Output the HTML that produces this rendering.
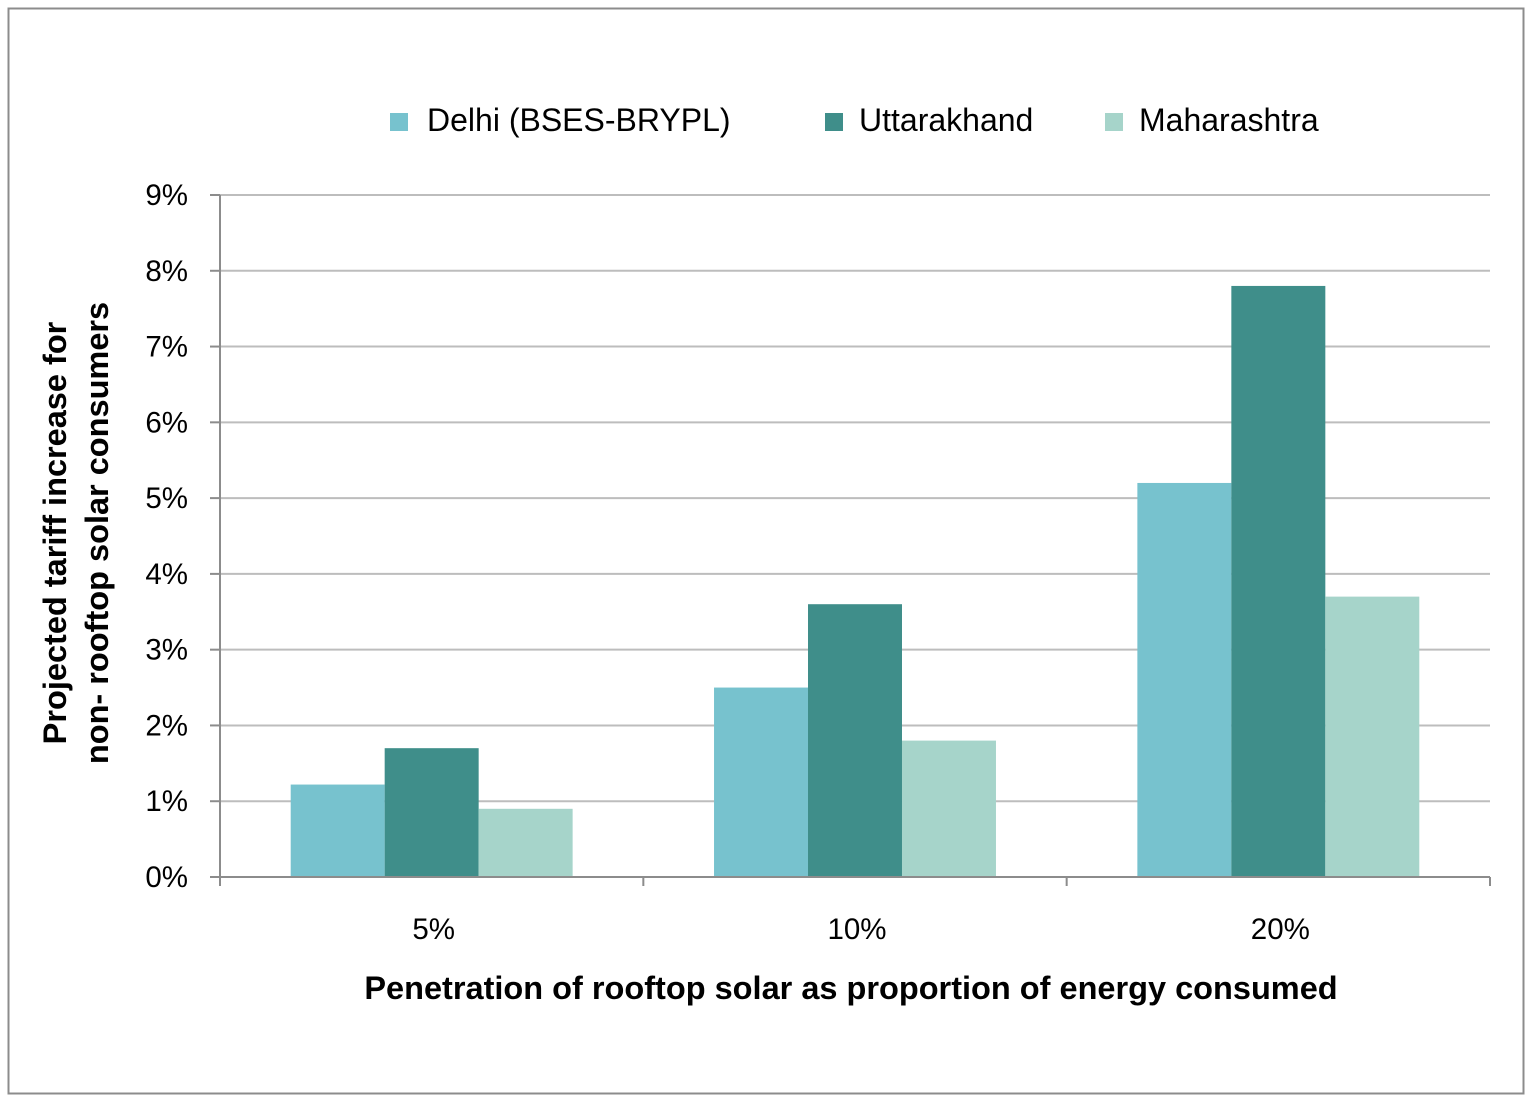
<!DOCTYPE html>
<html><head><meta charset="utf-8"><style>
body{margin:0;background:#fff}
svg text{font-family:"Liberation Sans",Arial,sans-serif;fill:#000}
</style></head><body>
<svg width="1532" height="1100" xmlns="http://www.w3.org/2000/svg">
<rect x="8.5" y="8.5" width="1515" height="1085" fill="#fff" stroke="#8c8c8c" stroke-width="2"/>
<g id="grid"></g>
<g id="bars"></g>
<g id="axes"></g>
<g>
<rect x="390" y="113" width="18" height="18" fill="#77c2ce"/>
<text x="427" y="131" font-size="32">Delhi (BSES-BRYPL)</text>
<rect x="825" y="113" width="18" height="18" fill="#3f8e8a"/>
<text x="859" y="131" font-size="32">Uttarakhand</text>
<rect x="1105" y="113" width="18" height="18" fill="#a6d4ca"/>
<text x="1139" y="131" font-size="32">Maharashtra</text>
</g>
<text x="851" y="999" font-size="32.5" font-weight="bold" text-anchor="middle">Penetration of rooftop solar as proportion of energy consumed</text>
<g transform="translate(66,533) rotate(-90)">
<text x="0" y="0" font-size="32.5" font-weight="bold" text-anchor="middle">Projected tariff increase for</text>
<text x="0" y="42" font-size="32.5" font-weight="bold" text-anchor="middle">non- rooftop solar consumers</text>
</g>
</svg>
<script>
const categories=["5%","10%","20%"];
const delhi=[1.22,2.5,5.2];
const uttarakhand=[1.7,3.6,7.8];
const maharashtra=[0.9,1.8,3.7];
const yTicks=[0,1,2,3,4,5,6,7,8,9];
const NS="http://www.w3.org/2000/svg";
const x0=220,x1=1490,yb=877,yt=195,ymax=9;
const y=v=>yb-(v/ymax)*(yb-yt);
const bw=(x1-x0)/categories.length;
function mk(t,a,p){const e=document.createElementNS(NS,t);for(const k in a)e.setAttribute(k,a[k]);p.appendChild(e);return e;}
const grid=document.getElementById('grid'),bars=document.getElementById('bars'),axes=document.getElementById('axes');
yTicks.forEach(v=>{
 if(v>0){const l=mk('line',{x1:x0,x2:x1,y1:y(v),y2:y(v),stroke:'#bdbdbd','stroke-width':2},grid);
 
 }
 const tk=mk('line',{x1:x0-10,x2:x0,y1:y(v),y2:y(v),stroke:'#8c8c8c','stroke-width':2},axes);
 
 
 const t=mk('text',{x:188,y:y(v)+10,'font-size':29.5,'text-anchor':'end'},axes);t.textContent=v+'%';
 
 
});
const series=[[delhi,'#77c2ce','delhi'],[uttarakhand,'#3f8e8a','uttarakhand'],[maharashtra,'#a6d4ca','maharashtra']];
const barW=bw*0.222;
categories.forEach((c,i)=>{
 const cx=x0+bw*(i+0.5);
 series.forEach((s,j)=>{
  const v=s[0][i];
  const r=mk('rect',{x:cx-1.5*barW+j*barW,y:y(v),width:barW,height:yb-y(v),fill:s[1]},bars);
  
  
 });
 const t=mk('text',{x:cx+2,y:939,'font-size':29.5,'text-anchor':'middle'},axes);t.textContent=c;
 
 
});
for(let i=0;i<=categories.length;i++){
 const tx=x0+bw*i;
 const l=mk('line',{x1:tx,x2:tx,y1:yb,y2:yb+9,stroke:'#8c8c8c','stroke-width':2},axes);
 
 
}
const ax=mk('line',{x1:x0,x2:x1,y1:yb,y2:yb,stroke:'#8c8c8c','stroke-width':2},axes);


const ay=mk('line',{x1:x0,x2:x0,y1:yt,y2:yb,stroke:'#8c8c8c','stroke-width':2},axes);


</script>
</body></html>
